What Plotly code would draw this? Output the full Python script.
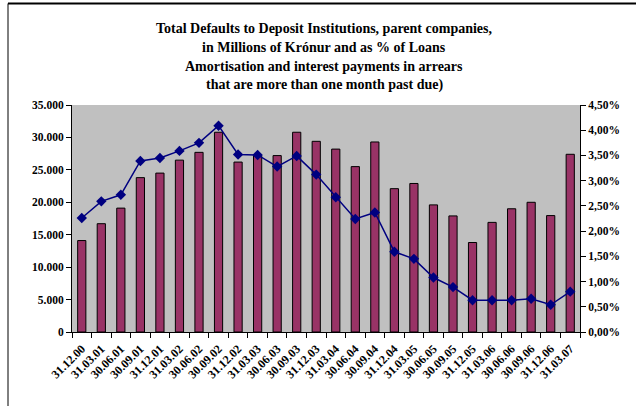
import plotly.graph_objects as go

categories = ["31.12.00", "31.03.01", "30.06.01", "30.09.01", "31.12.01", "31.03.02",
              "30.06.02", "30.09.02", "31.12.02", "31.03.03", "30.06.03", "30.09.03",
              "31.12.03", "31.03.04", "30.06.04", "30.09.04", "31.12.04", "31.03.05",
              "30.06.05", "30.09.05", "31.12.05", "31.03.06", "30.06.06", "30.09.06",
              "31.12.06", "31.03.07"]
defaults_mkr = [14100, 16700, 19100, 23800, 24500, 26500, 27700, 30800, 26200, 27200,
                27200, 30800, 29400, 28200, 25500, 29300, 22100, 22900, 19600, 17900,
                13800, 16900, 19000, 20000, 17950, 27400]
defaults_pct = [2.26, 2.59, 2.72, 3.39, 3.45, 3.59, 3.75, 4.09, 3.52, 3.51, 3.28, 3.49,
                3.12, 2.67, 2.24, 2.37, 1.59, 1.45, 1.08, 0.89, 0.63, 0.63, 0.63, 0.66,
                0.54, 0.80]
title_lines = ["Total Defaults to Deposit Institutions, parent companies,",
               "in Millions of Krónur and as % of Loans",
               "Amortisation and interest payments in arrears",
               "that are more than one month past due)"]

font_family = "Liberation Serif, Times New Roman, serif"
tick_font = dict(family=font_family, size=11.5, color="black", weight="bold")
xtick_font = dict(family=font_family, size=12, color="black", weight="bold")

fig = go.Figure()
fig.add_trace(go.Bar(
    x=categories, y=defaults_mkr, yaxis="y",
    marker=dict(color="#993366", line=dict(color="black", width=1)),
    showlegend=False,
))
fig.add_trace(go.Scatter(
    x=categories, y=[v / 100 for v in defaults_pct], yaxis="y2",
    mode="lines+markers",
    line=dict(color="#000080", width=1.5),
    marker=dict(symbol="diamond", size=8, color="#000080"),
    showlegend=False, cliponaxis=False,
))

# plot area: x 72..580, y 105..332
L, R, T, B = 72, 580, 105, 332
W, H = R - L, B - T
def px(x):
    return (x - L) / W
def py(y):
    return (B - y) / H

annotations = []
for line, yc in zip(title_lines, [28, 47, 66, 85]):
    annotations.append(dict(
        text=line, xref="paper", yref="paper", x=px(324), y=py(yc),
        xanchor="center", yanchor="middle", showarrow=False,
        font=dict(family=font_family, size=14, color="black", weight="bold"),
    ))

shapes = [
    dict(type="line", xref="paper", yref="paper", x0=px(8), x1=px(640), y0=py(3.5), y1=py(3.5),
         line=dict(color="black", width=2)),
    dict(type="line", xref="paper", yref="paper", x0=px(8), x1=px(8), y0=py(3.5), y1=py(410),
         line=dict(color="black", width=1)),
]

fig.update_layout(
    width=636, height=406,
    margin=dict(l=L, r=636 - R, t=T, b=406 - B),
    paper_bgcolor="white", plot_bgcolor="#C0C0C0",
    separators=",.",
    bargap=0.58,
    annotations=annotations,
    shapes=shapes,
    xaxis=dict(
        type="category", range=[-0.5, len(categories) - 0.5],
        tickangle=-45, tickfont=xtick_font, automargin=False, ticklabelstandoff=4,
        showline=True, linecolor="black", linewidth=1,
        ticks="outside", ticklen=5, tickcolor="black", tickson="boundaries",
        showgrid=False, zeroline=False,
    ),
    yaxis=dict(
        range=[0, 35000], dtick=5000, tickformat=",d", tickfont=tick_font, automargin=False,
        showline=True, linecolor="black", linewidth=1,
        ticks="outside", ticklen=5, tickcolor="black",
        showgrid=False, zeroline=False,
    ),
    yaxis2=dict(
        overlaying="y", side="right", automargin=False,
        range=[0, 0.045], dtick=0.005, tickformat=".2%", tickfont=tick_font,
        showline=True, linecolor="black", linewidth=1,
        ticks="outside", ticklen=5, tickcolor="black",
        showgrid=False, zeroline=False,
    ),
)

fig.write_html("out.html", config={"displayModeBar": False},
               post_script="document.body.style.margin='0';")
